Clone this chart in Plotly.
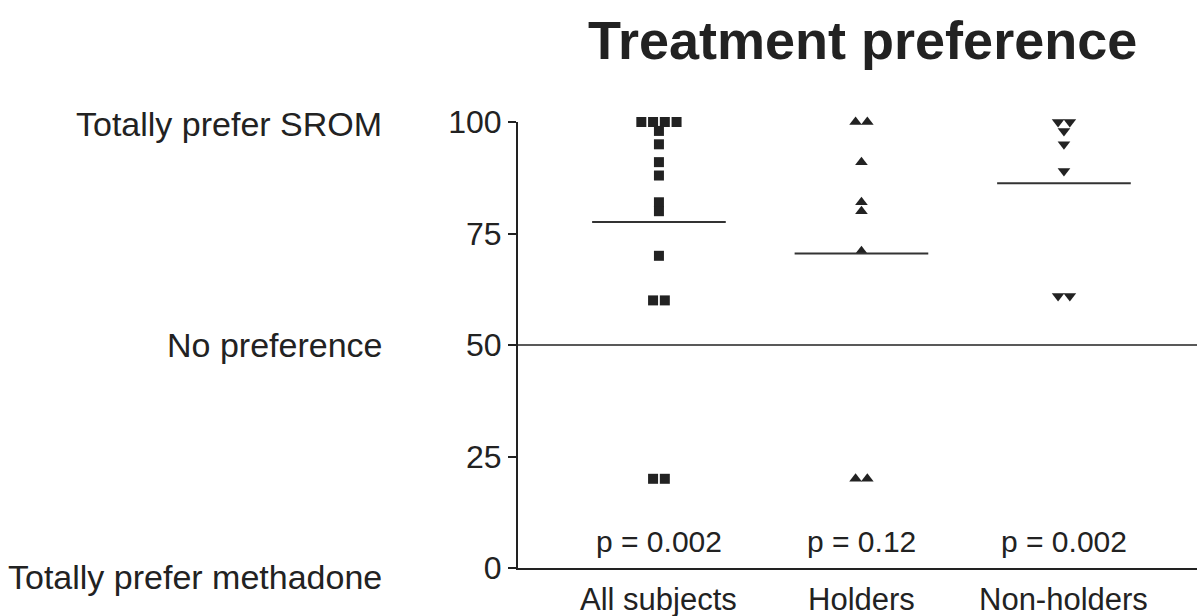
import plotly.graph_objects as go
import numpy as np

categories = ["All subjects", "Holders", "Non-holders"]
all_subjects = [100, 100, 100, 100, 98, 95, 91, 88, 82, 80, 70, 60, 60, 20, 20]
holders = [100, 100, 91, 82, 80, 71, 20, 20]
non_holders = [100, 100, 98, 95, 89, 61, 61]
p_values = ["p = 0.002", "p = 0.12", "p = 0.002"]
y_ticks = [0, 25, 50, 75, 100]
side_labels = ["Totally prefer SROM", "No preference", "Totally prefer methadone"]
side_values = [100, 50, 0]

groups = [all_subjects, holders, non_holders]
symbols = ["square", "triangle-up", "triangle-down"]
ink = "#222222"


def jitter(vals, step=0.058):
    vals = np.asarray(vals, dtype=float)
    offs = np.zeros(len(vals))
    for v in np.unique(vals):
        idx = np.where(vals == v)[0]
        n = len(idx)
        offs[idx] = (np.arange(n) - (n - 1) / 2) * step
    return offs


fig = go.Figure()
for i, (vals, sym) in enumerate(zip(groups, symbols)):
    xc = i + 1
    fig.add_trace(go.Scatter(
        x=xc + jitter(vals), y=vals, mode="markers",
        marker=dict(symbol=sym, size=10 if sym == "square" else 11,
                    color=ink, line=dict(width=0)),
        cliponaxis=False, showlegend=False))
    m = float(np.mean(vals))
    fig.add_trace(go.Scatter(
        x=[xc - 0.33, xc + 0.33], y=[m, m], mode="lines",
        line=dict(color="#333333", width=2), cliponaxis=False, showlegend=False))

# no-preference line
fig.add_trace(go.Scatter(x=[0.304, 3.657], y=[50, 50], mode="lines",
                         line=dict(color=ink, width=1.5), cliponaxis=False,
                         showlegend=False))

annotations = []
for i, (cat, p) in enumerate(zip(categories, p_values)):
    annotations.append(dict(x=i + 1, y=0, xref="x", yref="y", text=cat,
                            showarrow=False, yanchor="middle", yshift=-31,
                            font=dict(size=31, color=ink, family="Arial")))
    annotations.append(dict(x=i + 1, y=0, xref="x", yref="y", text=p,
                            showarrow=False, yanchor="middle", yshift=27,
                            font=dict(size=30, color=ink, family="Arial")))
shifts = [-2, 0, -9]
for lab, v, s in zip(side_labels, side_values, shifts):
    annotations.append(dict(x=0, y=v, xref="paper", yref="y", text=lab,
                            showarrow=False, xanchor="right", yanchor="middle",
                            xshift=-134, yshift=s,
                            font=dict(size=34, color=ink, family="Arial")))
annotations.append(dict(x=0.507, y=1, xref="paper", yref="paper",
                        text="<b>Treatment preference</b>", showarrow=False,
                        xanchor="center", yanchor="middle", yshift=82,
                        font=dict(size=54, color=ink, family="Arial")))

fig.update_layout(
    width=1197, height=616,
    margin=dict(l=518, r=0, t=122, b=48),
    paper_bgcolor="white", plot_bgcolor="white",
    annotations=annotations,
    xaxis=dict(range=[0.304, 3.657], showgrid=False, zeroline=False,
               showticklabels=False, ticks="", showline=True,
               linecolor=ink, linewidth=2),
    yaxis=dict(range=[0, 100], tickvals=y_ticks, showgrid=False, zeroline=False,
               showline=True, linecolor=ink, linewidth=2, ticks="outside",
               ticklen=8, tickwidth=1.5, tickcolor=ink,
               tickfont=dict(size=32, color=ink, family="Arial")),
)

fig.write_html("out.html")
